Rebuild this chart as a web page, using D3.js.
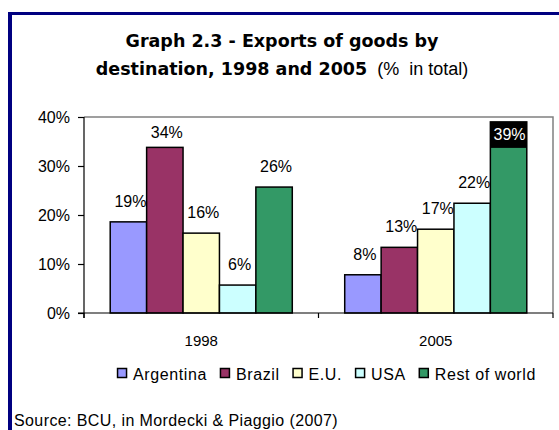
<!DOCTYPE html>
<html>
<head>
<meta charset="utf-8">
<script src="https://cdn.jsdelivr.net/npm/d3@7"></script>
<style>
    body { margin: 0; background: #fff; }
    #svgContainer { width: 559px; height: 430px; }
</style>
</head>
<body>
<div id="svgContainer"></div>
<script>
const years = ["1998", "2005"];
const destinations = ["Argentina", "Brazil", "E.U.", "USA", "Rest of world"];
const colors = ["#9999FF", "#993366", "#FFFFCC", "#CCFFFF", "#339966"];
const values1998 = [0.186, 0.338, 0.163, 0.057, 0.257];
const values2005 = [0.078, 0.134, 0.171, 0.224, 0.390];
const yTicks = [0, 0.1, 0.2, 0.3, 0.4];

const svgDiv = document.getElementById("svgContainer");
const width = 559;
const height = 430;

const svg = d3.select(svgDiv).append("svg")
    .attr("width", width)
    .attr("height", height);

// rows for the bars
const data = [];
years.forEach((y, i) => {
    const vals = i === 0 ? values1998 : values2005;
    destinations.forEach((d, j) => {
        data.push({year: y, dest: d, value: vals[j], color: colors[j]});
    });
});

// frame
svg.append("line")
    .attr("x1", 10).attr("x2", 10)
    .attr("y1", 12).attr("y2", height)
    .attr("stroke", "#000080")
    .attr("stroke-width", 4);
svg.append("line")
    .attr("x1", 8).attr("x2", width)
    .attr("y1", 13.5).attr("y2", 13.5)
    .attr("stroke", "#000080")
    .attr("stroke-width", 3);

// title
svg.append("text")
    .attr("text-anchor", "middle")
    .attr("x", 282)
    .attr("y", 47)
    .attr("fill", "#000")
    .attr("font-family", "DejaVu Sans")
    .attr("font-weight", "bold")
    .attr("font-size", 17.5)
    .text("Graph 2.3 - Exports of goods by");
const t2 = svg.append("text")
    .attr("text-anchor", "middle")
    .attr("x", 282)
    .attr("y", 75)
    .attr("fill", "#000");
t2.append("tspan")
    .attr("font-family", "DejaVu Sans")
    .attr("font-weight", "bold")
    .attr("font-size", 17.5)
    .text("destination, 1998 and 2005");
t2.append("tspan")
    .attr("font-family", "Liberation Sans")
    .attr("font-size", 18)
    .attr("xml:space", "preserve")
    .text("  (%  in total)");

// plot area
const plot = {left: 84, right: 553, top: 117, bottom: 313};

const x = d3.scaleBand()
    .domain(years)
    .range([plot.left, plot.right]);

const xInner = d3.scaleBand()
    .domain(destinations)
    .range([0, x.bandwidth()])
    .paddingOuter(0.72);

const y = d3.scaleLinear()
    .domain([0, 0.4])
    .range([plot.bottom, plot.top]);

const fmt = d3.format(".0%");

// gray top and right border
svg.append("path")
    .attr("d", `M${plot.left},${plot.top}H${plot.right}V${plot.bottom}`)
    .attr("fill", "none")
    .attr("stroke", "#808080")
    .attr("stroke-width", 1.5);

const yAxis = svg.append("g")
    .attr("transform", `translate(${plot.left},0)`)
    .call(d3.axisLeft(y).tickValues(yTicks).tickFormat(fmt).tickSize(6).tickPadding(8));
yAxis.select(".domain").remove();
yAxis.selectAll(".tick line").attr("stroke", "#000").attr("stroke-width", 1.2);
yAxis.selectAll("text")
    .attr("font-family", "Liberation Sans")
    .attr("font-size", 16)
    .attr("fill", "#000");

const xAxis = svg.append("g")
    .attr("transform", `translate(0,${plot.bottom})`)
    .call(d3.axisBottom(x).tickSize(0).tickPadding(22));
xAxis.select(".domain").remove();
xAxis.selectAll("text")
    .attr("font-family", "Liberation Sans")
    .attr("font-size", 15)
    .attr("fill", "#000");

// category tick marks between groups
svg.append("g")
    .selectAll("line")
    .data([plot.left, x("2005"), plot.right])
    .join("line")
    .attr("x1", d => d).attr("x2", d => d)
    .attr("y1", plot.bottom).attr("y2", plot.bottom + 5)
    .attr("stroke", "#000")
    .attr("stroke-width", 1.2);

// bars
svg.append("g")
    .selectAll("rect")
    .data(data)
    .join("rect")
    .attr("x", d => x(d.year) + xInner(d.dest))
    .attr("y", d => y(d.value))
    .attr("width", xInner.bandwidth())
    .attr("height", d => y(0) - y(d.value))
    .attr("fill", d => d.color)
    .attr("stroke", "#000")
    .attr("stroke-width", 1.5);

// axis lines on top of bars
svg.append("line")
    .attr("x1", plot.left).attr("x2", plot.left)
    .attr("y1", plot.top).attr("y2", plot.bottom + 5)
    .attr("stroke", "#000").attr("stroke-width", 1.2);
svg.append("line")
    .attr("x1", plot.left - 6).attr("x2", plot.right)
    .attr("y1", plot.bottom).attr("y2", plot.bottom)
    .attr("stroke", "#000").attr("stroke-width", 1.2);

// data labels
const labelOffset = 15;
const labels = svg.append("g")
    .attr("font-family", "Liberation Sans")
    .attr("font-size", 16);

data.forEach(d => {
    const cx = x(d.year) + xInner(d.dest) + xInner.bandwidth() / 2;
    const top = y(d.value);
    if (top - labelOffset - 12 < plot.top) {
        // no room above: black box inside the bar
        labels.append("rect")
            .attr("x", x(d.year) + xInner(d.dest))
            .attr("y", top)
            .attr("width", xInner.bandwidth())
            .attr("height", 26)
            .attr("fill", "#000");
        labels.append("text")
            .attr("x", cx + 1)
            .attr("y", top + 18)
            .attr("text-anchor", "middle")
            .attr("fill", "#fff")
            .text(fmt(d.value));
    } else {
        labels.append("text")
            .attr("x", cx + 2)
            .attr("y", Math.max(top - labelOffset, plot.top + 21))
            .attr("text-anchor", "middle")
            .attr("fill", "#000")
            .text(fmt(d.value));
    }
});

// legend
const legend = svg.append("g");
let lx = 0;
destinations.forEach((d, i) => {
    const item = legend.append("g").attr("transform", `translate(${lx},0)`);
    item.append("rect")
        .attr("x", 0.5)
        .attr("y", -11.5)
        .attr("width", 9)
        .attr("height", 9)
        .attr("fill", colors[i])
        .attr("stroke", "#000")
        .attr("stroke-width", 1.5);
    const t = item.append("text")
        .attr("x", 16)
        .attr("font-family", "Liberation Sans")
        .attr("font-size", 16)
        .attr("letter-spacing", 0.6)
        .attr("fill", "#000")
        .text(d);
    lx += 16 + t.node().getComputedTextLength() + 13;
});
legend.attr("transform", `translate(${112 + (429 - (lx - 13)) / 2},380)`);

// source
svg.append("text")
    .attr("x", 14)
    .attr("y", 426)
    .attr("font-family", "Liberation Sans")
    .attr("font-size", 16)
    .attr("letter-spacing", 0.4)
    .attr("fill", "#000")
    .text("Source: BCU, in Mordecki & Piaggio (2007)");
</script>
</body>
</html>
